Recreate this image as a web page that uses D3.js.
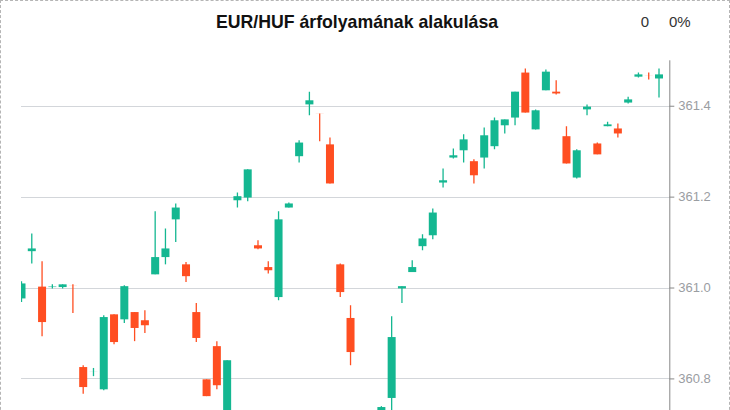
<!DOCTYPE html>
<html>
<head>
<meta charset="utf-8">
<script src="https://cdn.jsdelivr.net/npm/d3@7/dist/d3.min.js"></script>
<style>
  html, body { margin: 0; padding: 0; background: #fff; overflow: hidden; }
  #frame { position: absolute; left: 0; top: 0; width: 730px; height: 440px; box-sizing: border-box; border: 1px dashed #b5b5b5; }
  svg { position: absolute; left: 0; top: 0; }
</style>
</head>
<body>
<div id="frame"></div>
<svg id="chart" width="730" height="410"></svg>
<script>
const title = "EUR/HUF árfolyamának alakulása";
const changeValue = "0";
const changePercent = "0%";
const categories = d3.range(63).map(i => String(i + 1));
const open  = [360.976,361.080,361.0020,361.001,361.001,361.0052,360.825,360.8150,360.776,360.941,360.930,360.946,360.928,361.029,361.067,361.150,361.051,360.946,360.798,360.871,360.664,361.192,361.198,361.093,361.045,360.979,361.176,361.289,361.403,361.3832,361.315,361.051,360.933,360.720,360.680,360.700,360.757,360.998,361.034,361.091,361.115,361.231,361.286,361.302,361.278,361.286,361.311,361.357,361.374,361.473,361.348,361.434,361.431,361.333,361.242,361.392,361.317,361.355,361.350,361.407,361.464,361.4662,361.460];
const close = [361.009,361.086,360.924,361.0022,361.007,361.0050,360.781,360.8152,360.935,360.880,361.003,360.911,360.917,361.067,361.086,361.176,361.025,360.889,360.761,360.785,360.840,361.201,361.260,361.086,361.038,361.150,361.185,361.319,361.412,361.3830,361.229,360.990,360.858,360.690,360.710,360.737,360.891,361.003,361.045,361.108,361.165,361.236,361.291,361.326,361.247,361.335,361.368,361.370,361.431,361.385,361.390,361.475,361.427,361.273,361.302,361.398,361.293,361.359,361.339,361.414,361.469,361.4660,361.469];
const high  = [361.014,361.119,361.058,361.007,361.007,361.007,360.829,360.823,360.939,360.941,361.005,360.946,360.950,361.168,361.130,361.185,361.056,360.966,360.798,360.882,360.840,361.209,361.260,361.104,361.058,361.168,361.187,361.324,361.431,361.383,361.330,361.053,360.961,360.725,360.720,360.739,360.937,361.003,361.060,361.117,361.174,361.262,361.306,361.337,361.282,361.352,361.374,361.370,361.431,361.482,361.392,361.480,361.456,361.355,361.304,361.403,361.319,361.365,361.361,361.420,361.473,361.473,361.482];
const low   = [360.968,361.053,360.893,360.998,360.998,360.944,360.766,360.805,360.774,360.875,360.922,360.882,360.900,361.029,361.051,361.100,361.012,360.880,360.761,360.776,360.653,361.176,361.190,361.084,361.031,360.972,361.176,361.275,361.379,361.322,361.229,360.979,360.829,360.670,360.660,360.690,360.726,360.966,361.034,361.082,361.106,361.220,361.284,361.275,361.229,361.262,361.304,361.339,361.357,361.385,361.348,361.434,361.425,361.273,361.240,361.379,361.293,361.355,361.330,361.405,361.462,361.458,361.418];
const yTicks = [360.8, 361.0, 361.2, 361.4];

const UP = "#14b791", DOWN = "#ff4e21";
const data = categories.map((c, i) => ({c, o: open[i], h: high[i], l: low[i], cl: close[i]}));

const svg = d3.select("#chart");
const plotLeft = 21, plotRight = 669.3, plotTop = 60.3;

const x = d3.scalePoint().domain(categories).range([21.5, 659]);
const y = d3.scaleLinear().domain([360.6, 361.5]).range([469.3, 60.3]);

svg.append("defs").append("clipPath").attr("id", "clip")
  .append("rect").attr("x", plotLeft).attr("y", plotTop - 10).attr("width", plotRight - plotLeft).attr("height", 500);

// grid
svg.append("g").selectAll("line").data(yTicks).join("line")
  .attr("x1", plotLeft).attr("x2", plotRight)
  .attr("y1", d => Math.round(y(d)) + 0.5).attr("y2", d => Math.round(y(d)) + 0.5)
  .attr("stroke", "#d3d6da").attr("stroke-width", 1);

// candles
const g = svg.append("g").attr("clip-path", "url(#clip)");
const cg = g.selectAll("g.c").data(data).join("g").attr("class", "c");
cg.append("line")
  .attr("x1", d => x(d.c)).attr("x2", d => x(d.c))
  .attr("y1", d => y(d.h)).attr("y2", d => y(d.l))
  .attr("stroke", d => d.cl >= d.o ? UP : DOWN).attr("stroke-width", 1.3);
cg.append("rect")
  .attr("x", d => x(d.c) - 4).attr("width", 8)
  .attr("y", d => y(Math.max(d.o, d.cl)))
  .attr("height", d => Math.abs(y(d.o) - y(d.cl)))
  .attr("fill", d => d.cl >= d.o ? UP : DOWN);

// right axis
const axis = d3.axisRight(y).tickValues(yTicks).tickSize(5).tickPadding(4).tickFormat(d3.format(".1f"));
const ag = svg.append("g").attr("transform", `translate(${plotRight},0)`).call(axis);
ag.select(".domain").attr("stroke", "#888").attr("d", `M0.5,${plotTop}V480`);
ag.selectAll(".tick line").attr("stroke", "#888");
ag.selectAll(".tick text").attr("fill", "#9a9da2").attr("font-size", 13).attr("font-family", "'Liberation Sans', Arial, sans-serif");

// title
svg.append("text").attr("x", 357).attr("y", 28).attr("text-anchor", "middle")
  .attr("font-family", "'Liberation Sans', Arial, sans-serif").attr("font-weight", "bold").attr("font-size", 17.7)
  .attr("fill", "#111").text(title);
svg.append("text").attr("x", 645).attr("y", 27).attr("text-anchor", "middle")
  .attr("font-family", "'Liberation Sans', Arial, sans-serif").attr("font-size", 15).attr("fill", "#333").text(changeValue);
svg.append("text").attr("x", 669).attr("y", 27)
  .attr("font-family", "'Liberation Sans', Arial, sans-serif").attr("font-size", 15).attr("fill", "#333").text(changePercent);
</script>
</body>
</html>
